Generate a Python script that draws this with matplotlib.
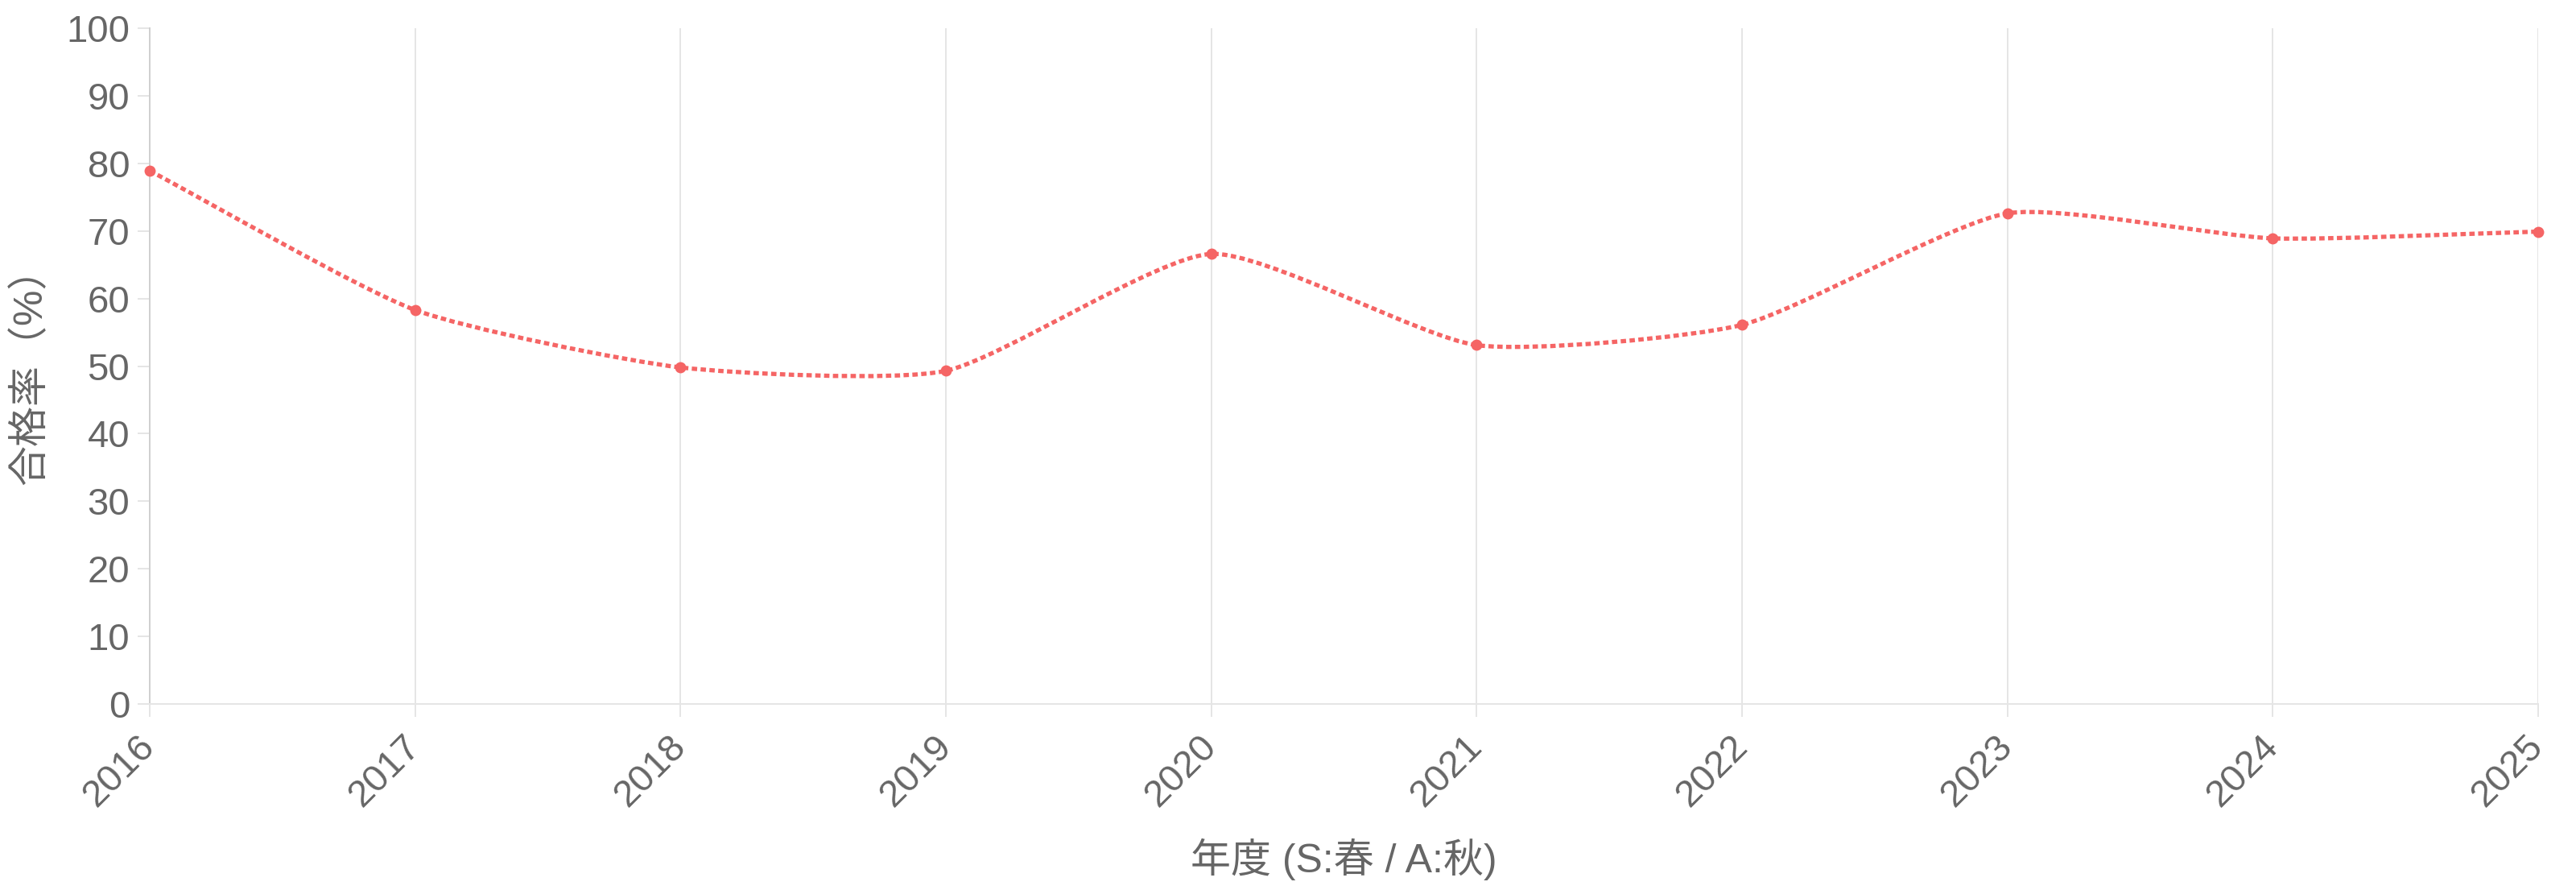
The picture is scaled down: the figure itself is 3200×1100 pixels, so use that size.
import numpy as np
import matplotlib
matplotlib.use('Agg')
import matplotlib.pyplot as plt
from matplotlib.path import Path
from matplotlib.patches import PathPatch

# ---- data ----
years = ['2016', '2017', '2018', '2019', '2020', '2021', '2022', '2023', '2024', '2025']
pass_rate = [78.9, 58.3, 49.8, 49.3, 66.6, 53.1, 56.1, 72.6, 68.9, 69.9]
y_ticks = [0, 10, 20, 30, 40, 50, 60, 70, 80, 90, 100]
x_title = '年度 (S:春 / A:秋)'
y_title = '合格率（%）'

# ---- style ----
LINE_COLOR = '#f56565'
TEXT_COLOR = '#666666'
GRID_COLOR = '#e5e5e5'
AXIS_COLOR = '#d0d0d0'
TICK_FS = 34
TITLE_FS = 36

plt.rcParams['font.family'] = ['Liberation Sans', 'Noto Sans CJK JP', 'DejaVu Sans']
plt.rcParams['lines.scale_dashes'] = False

W, H = 3200, 1100
L, R, T, B = 186, 3153, 35, 874
fig = plt.figure(figsize=(W / 100, H / 100), dpi=100)
ax = fig.add_axes([L / W, 1 - B / H, (R - L) / W, (B - T) / H])

x = np.arange(len(years))
ax.set_xlim(0, len(years) - 1)
ax.set_ylim(y_ticks[0], y_ticks[-1])

# ---- smooth curve (Chart.js style tension spline, computed in pixel space) ----
pts = ax.transData.transform(np.column_stack([x, pass_rate]).astype(float))
tension = 0.2
n = len(pts)
cp_prev = np.zeros_like(pts)
cp_next = np.zeros_like(pts)
for i in range(n):
    prev = pts[i - 1] if i > 0 else pts[i]
    cur = pts[i]
    nxt = pts[i + 1] if i < n - 1 else pts[i]
    d01 = np.hypot(*(cur - prev))
    d12 = np.hypot(*(nxt - cur))
    tot = d01 + d12
    s01 = d01 / tot if tot else 0.0
    s12 = d12 / tot if tot else 0.0
    cp_prev[i] = cur - tension * s01 * (nxt - prev)
    cp_next[i] = cur + tension * s12 * (nxt - prev)

verts = [pts[0]]
codes = [Path.MOVETO]
for i in range(n - 1):
    verts += [cp_next[i], cp_prev[i + 1], pts[i + 1]]
    codes += [Path.CURVE4] * 3
verts_data = ax.transData.inverted().transform(np.array(verts))
patch = PathPatch(Path(verts_data, codes), fill=False, edgecolor=LINE_COLOR,
                  lw=3.8, linestyle=(0, (4.8, 3.1)), capstyle='butt', zorder=3,
                  clip_on=False)
ax.add_patch(patch)

ax.plot(x, pass_rate, linestyle='none', marker='o', ms=10, color=LINE_COLOR,
        markeredgewidth=0, clip_on=False, zorder=4)

# ---- axes styling ----
for s in ['top', 'right']:
    ax.spines[s].set_visible(False)
ax.spines['left'].set_color(AXIS_COLOR)
ax.spines['left'].set_linewidth(1.44)
ax.spines['bottom'].set_color(GRID_COLOR)
ax.spines['bottom'].set_linewidth(1.44)

ax.set_xticks(x)
ax.set_xticklabels(years, rotation=45, ha='right', va='center', rotation_mode='anchor')
ax.set_yticks(y_ticks)
ax.set_yticklabels([str(v) for v in y_ticks])
ax.tick_params(axis='x', length=11.5, width=1.44, color=GRID_COLOR, pad=22,
               labelsize=TICK_FS, labelcolor=TEXT_COLOR)
ax.tick_params(axis='y', length=10.8, width=1.44, color=GRID_COLOR, pad=7,
               labelsize=TICK_FS, labelcolor=TEXT_COLOR)
ax.grid(axis='x', color=GRID_COLOR, lw=1.44)
ax.set_axisbelow(True)

ax.set_xlabel(x_title, fontsize=TITLE_FS, color=TEXT_COLOR, va='baseline')
ax.xaxis.set_label_coords(0.5, (B - 1083) / (B - T))
ax.set_ylabel(y_title, fontsize=TITLE_FS, color=TEXT_COLOR, va='center', ha='center')
ax.yaxis.set_label_coords(-(L - 38) / (R - L), 0.5)

fig.savefig('out.png', dpi=100, facecolor='white')
